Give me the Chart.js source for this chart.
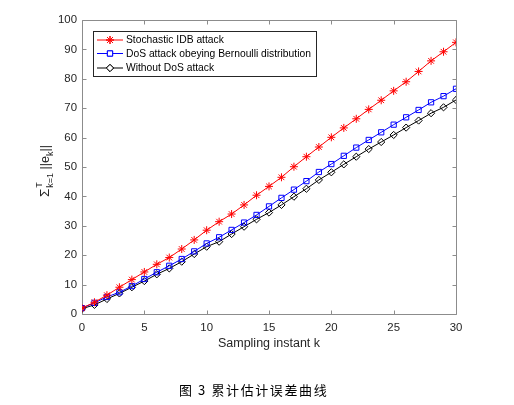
<!DOCTYPE html>
<html><head><meta charset="utf-8">
<script src="https://cdn.jsdelivr.net/npm/chart.js@4"></script>
<style>html,body{margin:0;padding:0;background:#fff;} canvas{display:block;}</style>
</head><body>
<canvas id="c" width="514" height="405"></canvas>
<script>
const kValues = [0,1,2,3,4,5,6,7,8,9,10,11,12,13,14,15,16,17,18,19,20,21,22,23,24,25,26,27,28,29,30];
const idbAttack = [2.0,4.0,6.4,9.1,11.7,14.3,16.9,19.2,22.1,25.2,28.5,31.4,34.0,37.1,40.4,43.4,46.5,50.1,53.5,56.8,60.1,63.3,66.4,69.6,72.7,75.9,79.0,82.5,86.1,89.2,92.4];
const dosBernoulli = [2.0,3.8,5.8,7.4,9.5,11.9,14.2,16.4,18.7,21.3,24.0,26.1,28.6,31.1,33.7,36.6,39.5,42.3,45.2,48.3,51.0,53.8,56.6,59.2,61.8,64.4,66.9,69.4,72.0,74.1,76.6];
const withoutDos = [1.8,3.1,5.1,7.0,9.1,11.2,13.5,15.5,17.8,20.4,22.9,24.6,27.2,29.7,32.2,34.5,37.1,39.9,42.6,45.6,48.2,50.9,53.5,56.1,58.5,60.9,63.4,65.8,68.3,70.3,72.8];
const xTicks = [0,5,10,15,20,25,30];
const yTicks = [0,10,20,30,40,50,60,70,80,90,100];
const seriesLabels = ['Stochastic IDB attack','DoS attack obeying Bernoulli distribution','Without DoS attack'];
const xTitle = 'Sampling instant k';
const caption = '图 3 累计估计误差曲线';

const FONT = '"Liberation Sans", Arial, Helvetica, sans-serif';
const toXY = arr => arr.map((v,i) => ({x:kValues[i], y:v}));

const framePlugin = {
  id:'frame',
  beforeDatasetsDraw(chart){
    const {ctx, chartArea:{left,right,top,bottom}, scales:{x,y}} = chart;
    ctx.save();
    ctx.strokeStyle = '#8c8c8c';
    ctx.lineWidth = 1;
    const L = Math.round(left)+0.5, R = Math.round(right)+0.5, T = Math.round(top)+0.5, B = Math.round(bottom)+0.5;
    ctx.beginPath();
    ctx.rect(L, T, R-L, B-T);
    ctx.stroke();
    const tl = 4;
    ctx.beginPath();
    xTicks.forEach(v => {
      const px = Math.round(x.getPixelForValue(v))+0.5;
      ctx.moveTo(px, B); ctx.lineTo(px, B-tl);
      ctx.moveTo(px, T); ctx.lineTo(px, T+tl);
    });
    yTicks.forEach(v => {
      const py = Math.round(y.getPixelForValue(v))+0.5;
      ctx.moveTo(L, py); ctx.lineTo(L+tl, py);
      ctx.moveTo(R, py); ctx.lineTo(R-tl, py);
    });
    ctx.stroke();
    ctx.restore();
  },
  afterDraw(chart){
    const {ctx, chartArea:{left,right,top,bottom}} = chart;
    ctx.save();
    // legend
    const bx = left+11, by = top+11, bw = 223, bh = 45;
    ctx.fillStyle = '#fff';
    ctx.fillRect(bx, by, bw, bh);
    ctx.strokeStyle = '#262626';
    ctx.lineWidth = 1;
    ctx.strokeRect(Math.round(bx)+0.5, Math.round(by)+0.5, bw, bh);
    const rows = [by+9, by+22.5, by+37];
    chart.data.datasets.forEach((ds, i) => {
      const yy = rows[i];
      ctx.strokeStyle = ds.borderColor;
      ctx.lineWidth = ds.borderWidth;
      ctx.beginPath();
      ctx.moveTo(bx+4, yy); ctx.lineTo(bx+30, yy);
      ctx.stroke();
      ctx.fillStyle = '#fff';
      Chart.helpers.drawPoint(ctx, {pointStyle: ds.pointStyle, radius: ds.pointRadius, borderWidth: ds.borderWidth, rotation:0}, bx+17, yy);
      if (ds.pointStyle !== 'star') ctx.fill();
      ctx.strokeStyle = ds.borderColor;
      ctx.stroke();
      ctx.fillStyle = '#000';
      ctx.font = '10.3px ' + FONT;
      ctx.textBaseline = 'middle';
      ctx.textAlign = 'left';
      ctx.fillText(ds.label, bx+33, yy+0.5);
    });
    // x title
    ctx.fillStyle = '#262626';
    ctx.font = '12.5px ' + FONT;
    ctx.textAlign = 'center';
    ctx.textBaseline = 'middle';
    ctx.fillText(xTitle, (left+right)/2, 344);
    // y title
    ctx.save();
    ctx.translate(45, (top+bottom)/2 + 4);
    ctx.rotate(-Math.PI/2);
    const big = '12.5px ' + FONT, small = '9px ' + FONT;
    const parts = [
      {t:'\u03A3', f:'13.5px ' + FONT, dy:0},
      {t:'k=1', f:small, dy:3.5, stackT:'T'},
      {t:' ||e', f:big, dy:0},
      {t:'k', f:small, dy:3.5},
      {t:'||', f:big, dy:0}
    ];
    let total = 0;
    parts.forEach(p => { ctx.font = p.f; p.w = ctx.measureText(p.t).width + (p.stackT?1:0); total += p.w; });
    let cx = -total/2;
    ctx.textAlign = 'left';
    ctx.textBaseline = 'alphabetic';
    parts.forEach(p => {
      ctx.font = p.f;
      ctx.fillText(p.t, cx + (p.stackT?1:0), 4 + p.dy);
      if (p.stackT) ctx.fillText(p.stackT, cx+1, 4 - 7);
      cx += p.w;
    });
    ctx.restore();
    // caption
    ctx.fillStyle = '#000';
    ctx.font = '13px "Noto Sans CJK SC", sans-serif';
    ctx.letterSpacing = '1.6px';
    ctx.textAlign = 'left';
    ctx.textBaseline = 'middle';
    ctx.fillText(caption, 179, 390);
    ctx.restore();
  }
};

const mk = (label, data, color, style, r) => ({
  label, data: toXY(data), borderColor: color, backgroundColor: 'rgba(0,0,0,0)',
  borderWidth: 1, pointStyle: style, pointRadius: r, pointBorderColor: color,
  pointBackgroundColor: 'rgba(0,0,0,0)', pointBorderWidth: 1, tension: 0, fill:false
});

new Chart(document.getElementById('c'), {
  type: 'line',
  data: { datasets: [
    mk(seriesLabels[0], idbAttack, '#ff0000', 'star', 4),
    mk(seriesLabels[1], dosBernoulli, '#0000ff', 'rect', 3.7),
    mk(seriesLabels[2], withoutDos, '#000000', 'rectRot', 3.6)
  ]},
  options: {
    responsive: false, animation: false, devicePixelRatio: 1,
    layout: { padding: { top: 20, right: 58, left: 0, bottom: 0 } },
    plugins: { legend: {display:false}, tooltip: {enabled:false} },
    scales: {
      x: { type:'linear', min:0, max:30,
        afterFit(s){ s.height = 91; },
        afterBuildTicks(s){ s.ticks = xTicks.map(v => ({value:v})); },
        grid:{display:false, drawTicks:false}, border:{display:false},
        ticks:{ padding:7, color:'#262626', font:{family:FONT, size:11.4}, maxRotation:0 } },
      y: { type:'linear', min:0, max:100,
        afterFit(s){ s.width = 82; },
        afterBuildTicks(s){ s.ticks = yTicks.map(v => ({value:v})); },
        grid:{display:false, drawTicks:false}, border:{display:false},
        ticks:{ padding:5, color:'#262626', font:{family:FONT, size:11.4} } }
    }
  },
  plugins: [framePlugin]
});
</script>
</body></html>
